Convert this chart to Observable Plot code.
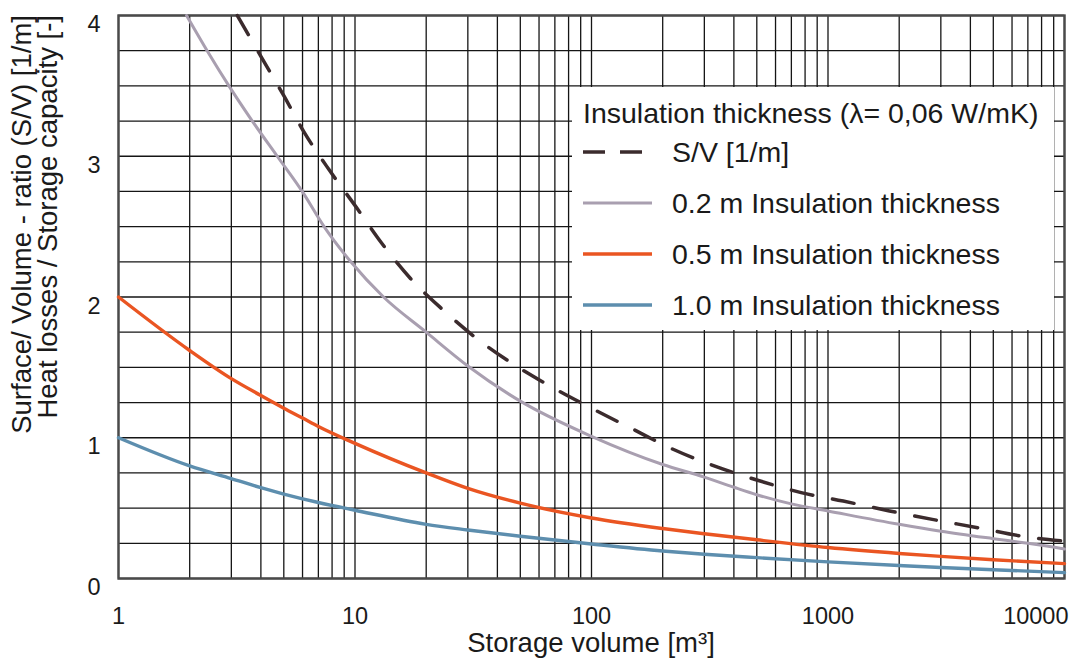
<!DOCTYPE html>
<html><head><meta charset="utf-8">
<script src="https://cdn.jsdelivr.net/npm/d3@7"></script>
<script src="https://cdn.jsdelivr.net/npm/@observablehq/plot@0.6"></script>
<style>body{margin:0;background:#fff} #chart{position:relative;width:1074px;height:661px}</style>
</head><body><div id="chart"></div>
<script>
// ---- data ----
const xTickValues = [1, 10, 100, 1000];
const xLastTick = [10000];
const yTickValues = [0, 1, 2, 3, 4];

const svVolume = [3.18, 4, 5, 6.1, 7.8, 10.2, 13, 17.2, 23.5, 33, 47, 68, 100, 150, 220, 330, 500, 770, 1160, 1820, 2760, 4330, 6630, 10000];
const svValue  = [4.0, 3.71, 3.43, 3.17, 2.90, 2.63, 2.38, 2.13, 1.91, 1.70, 1.52, 1.36, 1.21, 1.06, 0.92, 0.80, 0.70, 0.61, 0.55, 0.48, 0.42, 0.36, 0.30, 0.265];

const ins02Volume = [1.94, 2.37, 2.93, 3.68, 4.69, 5.98, 7.4, 9.6, 13.2, 20, 30, 50, 100, 200, 300, 400, 500, 700, 1000, 2000, 3000, 5000, 7000, 10000];
const ins02Value  = [4.0, 3.75, 3.5, 3.25, 3.0, 2.75, 2.5, 2.25, 2.0, 1.75, 1.51, 1.26, 1.01, 0.81, 0.72, 0.648, 0.595, 0.53, 0.48, 0.385, 0.336, 0.283, 0.25, 0.21];

const ins05Volume = [1, 2, 3, 4, 5, 6, 7, 10, 20, 30, 50, 100, 200, 300, 500, 1000, 2000, 3000, 5000, 10000];
const ins05Value  = [2.0, 1.62, 1.42, 1.30, 1.21, 1.14, 1.08, 0.96, 0.75, 0.64, 0.535, 0.43, 0.355, 0.318, 0.275, 0.22, 0.178, 0.157, 0.133, 0.106];

const ins10Volume = [1, 2, 3, 4, 5, 7, 10, 20, 30, 50, 100, 200, 300, 500, 1000, 2000, 3000, 5000, 10000];
const ins10Value  = [1.0, 0.80, 0.71, 0.645, 0.60, 0.54, 0.485, 0.385, 0.345, 0.30, 0.245, 0.195, 0.172, 0.148, 0.118, 0.092, 0.078, 0.062, 0.042];

const seriesNames  = ["S/V [1/m]", "0.2 m Insulation thickness", "0.5 m Insulation thickness", "1.0 m Insulation thickness"];
const seriesColors = ["#3b2b2d", "#a99fb0", "#ea5522", "#5d8eae"];
const seriesDash   = ["22,20", null, null, null];
const seriesWidth  = [3.5, 3, 3.4, 3.4];
const legendTitle  = "Insulation thickness (\u03bb= 0,06 W/mK)";
const xLabel = "Storage volume [m\u00b3]";
const yLabelLines = ["Surface/ Volume - ratio (S/V) [1/m]", "Heat losses / Storage capacity [-]"];

// ---- tables ----
const seriesData = [
  svVolume.map((v, i) => ({v, value: svValue[i]})),
  ins02Volume.map((v, i) => ({v, value: ins02Value[i]})),
  ins05Volume.map((v, i) => ({v, value: ins05Value[i]})),
  ins10Volume.map((v, i) => ({v, value: ins10Value[i]}))
];
const xGrid = d3.range(0, 4).flatMap(e => d3.range(1, 10).map(m => m * 10 ** e)).concat([10000]);
const yGrid = d3.range(0, 17).map(i => i * 0.25);

const font = "'Liberation Sans', Arial, Helvetica, sans-serif";
const fmt = d => String(d);

const plot = Plot.plot({
  width: 1074, height: 661,
  marginLeft: 118, marginRight: 10, marginTop: 15, marginBottom: 83,
  style: {fontFamily: font, fontSize: "23.5px", color: "#1a1a1a", background: "#fff"},
  x: {type: "log", domain: [1, 10000]},
  y: {domain: [0, 4]},
  marks: [
    Plot.ruleX(xGrid, {stroke: "#151515", strokeWidth: 1.3}),
    Plot.ruleY(yGrid, {stroke: "#151515", strokeWidth: 1.3}),
    Plot.frame({stroke: "#4a4a4a", strokeWidth: 2.4}),
    ...seriesData.map((d, i) => Plot.line(d, {
      x: "v", y: "value", stroke: seriesColors[i], strokeWidth: seriesWidth[i],
      strokeDasharray: seriesDash[i] ?? undefined, curve: "monotone-x"
    })),
    Plot.axisY({ticks: yTickValues, tickFormat: fmt, tickSize: 0, tickPadding: 18, dy: 9, label: null}),
    Plot.axisX({ticks: xTickValues, tickFormat: fmt, tickSize: 0, tickPadding: 29, label: null}),
    Plot.axisX({ticks: xLastTick, tickFormat: fmt, tickSize: 0, tickPadding: 29, textAnchor: "end", dx: 4, label: null})
  ]
});

const svg = d3.select(plot);
// axis titles
svg.append("text").attr("x", 591).attr("y", 652).attr("text-anchor", "middle")
  .attr("font-size", "27.5px").attr("fill", "#1a1a1a").text(xLabel);
yLabelLines.forEach((t, i) => {
  svg.append("text").attr("transform", `translate(${31 + i * 26},15) rotate(-90)`)
    .attr("text-anchor", "end").attr("font-size", "27.5px").attr("fill", "#1a1a1a").text(t);
});
// legend
const lg = svg.append("g").attr("text-anchor", "start");
lg.append("rect").attr("x", 572).attr("y", 87).attr("width", 482).attr("height", 243).attr("fill", "#fff");
lg.append("text").attr("x", 583).attr("y", 113).attr("dy", "0.35em").attr("font-size", "28.5px")
  .attr("text-anchor", "start").attr("fill", "#1a1a1a").text(legendTitle);
const rowY = [152, 203, 254, 305];
seriesNames.forEach((name, i) => {
  lg.append("line").attr("x1", 583).attr("x2", 652).attr("y1", rowY[i]).attr("y2", rowY[i])
    .attr("stroke", seriesColors[i]).attr("stroke-width", seriesWidth[i])
    .attr("stroke-dasharray", i === 0 ? "22,15" : null);
  lg.append("text").attr("x", 672).attr("y", rowY[i]).attr("dy", "0.35em").attr("font-size", "28.5px")
    .attr("text-anchor", "start").attr("fill", "#1a1a1a").text(name);
});

document.getElementById("chart").appendChild(plot);
</script></body></html>
